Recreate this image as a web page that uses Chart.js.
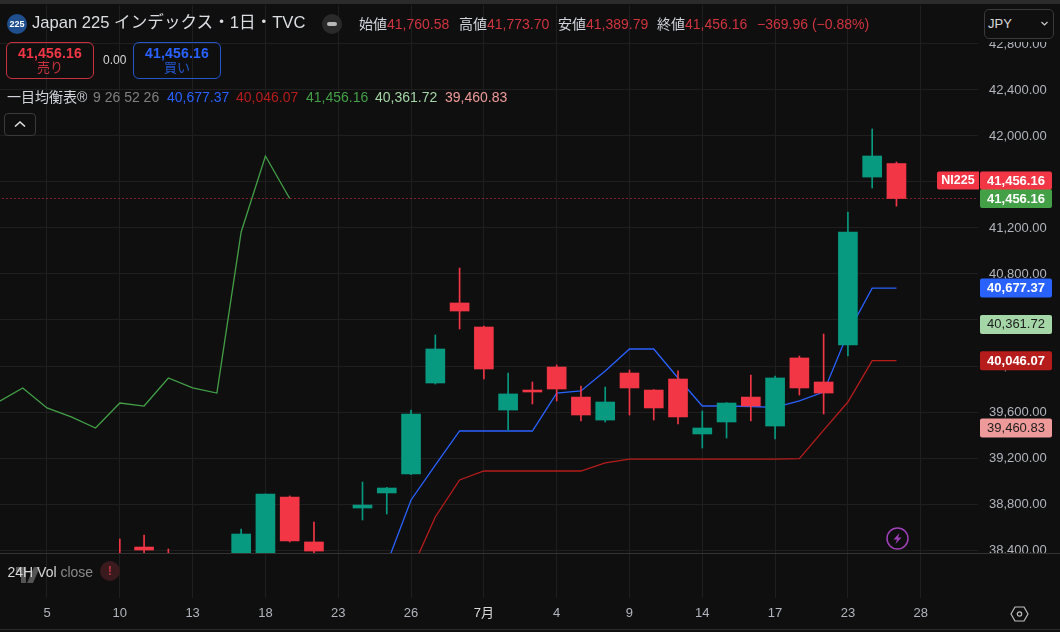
<!DOCTYPE html>
<html lang="ja">
<head>
<meta charset="utf-8">
<title>Japan 225</title>
<script src="https://cdn.jsdelivr.net/npm/chart.js@4"></script>
<style>
  html, body { margin: 0; padding: 0; background: #0f0f0f; }
  body { width: 1060px; height: 632px; position: relative; overflow: hidden;
         font-family: "Liberation Sans", "Noto Sans CJK JP", sans-serif; color: #d1d4dc; }
  canvas { position: absolute; left: 0; top: 0; }
  .abs { position: absolute; white-space: nowrap; line-height: 1; }
  .val { color: #d0343f; }
  .box { position: absolute; top: 42px; width: 86px; height: 35px; border: 1px solid; border-radius: 6px;
         text-align: center; }
  .box b { display: block; font-size: 14px; line-height: 14px; margin-top: 3px; letter-spacing: .2px; }
  .box span { display: block; font-size: 13px; line-height: 15px; }
</style>
</head>
<body>
<canvas id="chart" width="1060" height="632"></canvas>

<div class="abs" style="left:7px;top:14px;width:20px;height:20px;border-radius:50%;background:#1f4f8c;color:#fff;font-size:9px;font-weight:bold;line-height:20px;text-align:center">225</div>
<div class="abs" style="left:32px;top:15px;font-size:16.6px;color:#dcdee3">Japan 225 インデックス・1日・TVC</div>
<div class="abs" style="left:322px;top:14px;width:20px;height:20px;border-radius:50%;background:#2a2a2a"></div>
<div class="abs" style="left:327px;top:22px;width:10px;height:4px;border-radius:2px;background:#b8b8b8"></div>
<div class="abs" style="left:359px;top:17px;font-size:14px">始値<span class="val">41,760.58</span></div>
<div class="abs" style="left:459px;top:17px;font-size:14px">高値<span class="val">41,773.70</span></div>
<div class="abs" style="left:558px;top:17px;font-size:14px">安値<span class="val">41,389.79</span></div>
<div class="abs" style="left:657px;top:17px;font-size:14px">終値<span class="val">41,456.16</span></div>
<div class="abs val" style="left:757px;top:17px;font-size:14px">−369.96 (−0.88%)</div>

<div class="box" style="left:6px;border-color:#c8323f;color:#c8323f"><b style="color:#f23645">41,456.16</b><span>売り</span></div>
<div class="abs" style="left:103px;top:54px;font-size:12px;color:#d8d8d8">0.00</div>
<div class="box" style="left:133px;border-color:#2456cc;color:#2456cc"><b style="color:#2962ff">41,456.16</b><span>買い</span></div>

<div class="abs" style="left:7px;top:90px;font-size:14px;color:#d1d4dc">一目均衡表®</div>
<div class="abs" style="left:93px;top:90px;font-size:14px;color:#808080">9 26 52 26</div>
<div class="abs" style="left:167px;top:90px;font-size:14px;color:#2962ff">40,677.37</div>
<div class="abs" style="left:236px;top:90px;font-size:14px;color:#b71c1c">40,046.07</div>
<div class="abs" style="left:306px;top:90px;font-size:14px;color:#43a047">41,456.16</div>
<div class="abs" style="left:375px;top:90px;font-size:14px;color:#a5d6a7">40,361.72</div>
<div class="abs" style="left:445px;top:90px;font-size:14px;color:#ef9a9a">39,460.83</div>

<div class="abs" style="left:4px;top:113px;width:30px;height:21px;border:1px solid #3a3a3a;border-radius:4px"></div>
<svg class="abs" style="left:4px;top:113px" width="32" height="23"><path d="M11 13.5l5-4.5 5 4.5" fill="none" stroke="#e0e0e0" stroke-width="1.6"/></svg>

<div class="abs" style="left:984px;top:9px;width:68px;height:28px;border:1px solid #3a3a3a;border-radius:5px;background:#0f0f0f"></div>
<div class="abs" style="left:988px;top:17px;font-size:13px;color:#d8d8d8">JPY</div>
<svg class="abs" style="left:1040px;top:20px" width="10" height="8"><path d="M1.5 2l3 3 3-3" fill="none" stroke="#c8c8c8" stroke-width="1.2"/></svg>

<svg class="abs" style="left:0;top:560px" width="60" height="30"><path d="M16 7h10v16h-5V12h-5z M34 7h6l-7 16h-6z" fill="#555555"/></svg>
<div class="abs" style="left:7.5px;top:565px;font-size:14px;color:#d8d8d8">24H Vol <span style="color:#8a8a8a">close</span></div>
<div class="abs" style="left:100px;top:561px;width:20px;height:20px;border-radius:50%;background:#3a1a1d;color:#b0333f;font-size:13px;font-weight:bold;line-height:20px;text-align:center">!</div>

<svg class="abs" style="left:886px;top:527px" width="23" height="23"><circle cx="11.5" cy="11.5" r="10.5" fill="none" stroke="#a040b8" stroke-width="1.5"/><path d="M13.5 6l-6 6.5h3.5l-1.5 4.5 6-6.5h-3.5z" fill="#a040b8"/></svg>
<svg class="abs" style="left:1010px;top:605px" width="19" height="18"><path d="M5 2h9l4 7-4 7H5L1 9z" fill="none" stroke="#c0c0c0" stroke-width="1.2"/><circle cx="9.5" cy="9" r="2.2" fill="none" stroke="#c0c0c0" stroke-width="1.2"/></svg>

<script>
// 営業日 (index がそのまま x 軸の値)
const dates = ['6/3', '6/4', '6/5', '6/6', '6/9', '6/10', '6/11', '6/12', '6/13', '6/16', '6/17', '6/18', '6/19', '6/20',
  '6/23', '6/24', '6/25', '6/26', '6/27', '6/30', '7/1', '7/2', '7/3', '7/4', '7/7', '7/8', '7/9', '7/10', '7/11',
  '7/14', '7/15', '7/16', '7/17', '7/18', '7/22', '7/23', '7/24', '7/25', '7/28'];

const _ = null;
const opens = [_, _, _, _, _, 38330, 38426, 38350, _, _, 38300, 38350, 38861, 38470, _, 38765, 38896, 39061, 39852, 40548,
  40339, 39617, 39791, 39991, 39730, 39530, 39939, 39791, 39887, 39409, 39513, 39730, 39478, 40070, 39861, 40183, 41643, 41760.58];
const highs = [_, _, _, _, _, 38496, 38530, 38409, _, _, 38583, 38887, 38870, 38643, _, 38991, 38945, 39617, 40270, 40852,
  40348, 39939, 39861, 40009, 39826, 39817, 39965, 39795, 39957, 39609, 39682, 39922, 39913, 40087, 40278, 41339, 42061, 41773.70];
const lows = [_, _, _, _, _, 38200, 38340, 38200, _, _, 38250, 38300, 38470, 38370, _, 38661, 38713, 39055, 39843, 40322,
  39887, 39443, 39670, 39696, 39522, 39513, 39574, 39530, 39496, 39287, 39374, 39522, 39365, 39748, 39583, 40087, 41548, 41389.79];
const closes = [_, _, _, _, _, 38250, 38400, 38300, _, _, 38539, 38887, 38478, 38391, _, 38791, 38939, 39583, 40148, 40478,
  39974, 39757, 39774, 39800, 39574, 39687, 39809, 39635, 39557, 39461, 39678, 39652, 39896, 39809, 39765, 41165, 41826, 41456.16];

// 一目均衡表
const tenkan = [_, _, _, _, _, _, _, _, _, _, _, _, _, _, _, _, 38278, 38835, 39139, 39435, 39435, 39435, 39435, 39765,
  39783, 39957, 40148, 40148, 39896, 39652, 39652, 39648, 39640, 39696, 39774, 40287, 40677.37, 40677.37];
const kijun = [_, _, _, _, _, _, _, _, _, _, _, _, _, _, _, _, _, 38217, 38687, 39009, 39087, 39087, 39087, 39087, 39087,
  39157, 39191, 39191, 39191, 39191, 39191, 39191, 39191, 39195, 39443, 39687, 40046.07, 40046.07];
const chikou = [39687, 39809, 39635, 39557, 39461, 39678, 39652, 39896, 39809, 39765, 41165, 41826, 41456.16];

const lastPrice = 41456.16;
const priceTicks = [38400, 38800, 39200, 39600, 40000, 40400, 40800, 41200, 41600, 42000, 42400, 42800];
const timeTickDates = ['6/5', '6/10', '6/13', '6/18', '6/23', '6/26', '7/1', '7/4', '7/9', '7/14', '7/17', '7/23', '7/28'];
const timeTickLabels = ['5', '10', '13', '18', '23', '26', '7月', '4', '9', '14', '17', '23', '28'];

const tagValues = [39460.83, 40046.07, 40361.72, 40677.37, 41456.16];
const tagNames = ['39,460.83', '40,046.07', '40,361.72', '40,677.37', '41,456.16'];

const UP = '#089981';
const DOWN = '#f23645';
const BG = '#0f0f0f';
const GRID = '#1f1f1f';
const FONT = '"Liberation Sans", "Noto Sans CJK JP", sans-serif';
const tagStyles = [
  { bg: '#ef9a9a', fg: '#1c1c1c', weight: 'normal' },
  { bg: '#b71c1c', fg: '#ffffff', weight: 'bold' },
  { bg: '#a5d6a7', fg: '#1c1c1c', weight: 'normal' },
  { bg: '#2962ff', fg: '#ffffff', weight: 'bold' },
  { bg: '#43a047', fg: '#ffffff', weight: 'bold' },
];

const candleIdx = dates.map((d, i) => i).filter(i => opens[i] !== null && opens[i] !== undefined);
const barColor = candleIdx.map(i => (closes[i] >= opens[i] ? UP : DOWN));
const toLine = arr => arr.map((v, i) => ({ x: i, y: v }));

function roundTag(ctx, x, y, w, h, text, bg, fg, r) {
  ctx.fillStyle = bg;
  ctx.beginPath();
  ctx.roundRect(x, y, w, h, r);
  ctx.fill();
  ctx.fillStyle = fg;
  ctx.fillText(text, x + w / 2, y + h / 2 + 0.5);
}

const overlay = {
  id: 'overlay',
  afterDraw(chart) {
    const ctx = chart.ctx;
    const yScale = chart.scales.y;
    const area = chart.chartArea;
    ctx.save();

    // 軸ラベルのはみ出しを隠す
    ctx.fillStyle = BG;
    ctx.fillRect(area.right, 0, 1060 - area.right, 42);
    ctx.fillRect(area.right, area.bottom, 1060 - area.right, 45);

    // ペインの区切り
    ctx.fillStyle = '#2b2b2b';
    ctx.fillRect(0, 0, 1060, 4);
    ctx.fillRect(0, 629, 1060, 1);
    ctx.fillStyle = '#333333';
    ctx.fillRect(0, area.bottom, 1060, 1);

    // 価格タグ
    ctx.textAlign = 'center';
    ctx.textBaseline = 'middle';
    tagValues.forEach((v, i) => {
      const py = yScale.getPixelForValue(v);
      ctx.font = `${tagStyles[i].weight} 13px ${FONT}`;
      roundTag(ctx, 980, py - 9.5, 72, 19, tagNames[i], tagStyles[i].bg, tagStyles[i].fg, 2);
    });
    const py = yScale.getPixelForValue(lastPrice);
    ctx.font = `bold 13px ${FONT}`;
    roundTag(ctx, 980, py - 27, 72, 18, tagNames[4], DOWN, '#ffffff', 2);
    ctx.font = `bold 12.5px ${FONT}`;
    roundTag(ctx, 937, py - 27, 42, 18, 'NI225', DOWN, '#ffffff', [2, 0, 0, 2]);
    ctx.restore();
  },
};

new Chart(document.getElementById('chart').getContext('2d'), {
  type: 'bar',
  data: {
    datasets: [
      {
        type: 'bar',
        data: candleIdx.map(i => ({ x: i, y: [opens[i], closes[i]] })),
        backgroundColor: barColor,
        barThickness: 19,
        grouped: false,
        order: 1,
      },
      {
        type: 'bar',
        data: candleIdx.map(i => ({ x: i, y: [lows[i], highs[i]] })),
        backgroundColor: barColor,
        barThickness: 1,
        grouped: false,
        order: 2,
      },
      { type: 'line', data: toLine(tenkan), borderColor: '#2962ff', borderWidth: 1.3, pointRadius: 0, tension: 0, order: 4 },
      { type: 'line', data: toLine(kijun), borderColor: '#b71c1c', borderWidth: 1.3, pointRadius: 0, tension: 0, order: 4 },
      { type: 'line', data: toLine(chikou), borderColor: '#43a047', borderWidth: 1.3, pointRadius: 0, tension: 0, order: 4 },
      {
        type: 'line',
        data: [{ x: 0, y: lastPrice }, { x: dates.length + 2, y: lastPrice }],
        borderColor: DOWN,
        borderWidth: 1,
        borderDash: [1, 3],
        pointRadius: 0,
        order: 3,
      },
    ],
  },
  options: {
    responsive: false,
    animation: false,
    devicePixelRatio: 1,
    layout: { padding: { top: 5, right: 0, bottom: 0, left: 0 } },
    plugins: { legend: { display: false }, tooltip: { enabled: false } },
    scales: {
      x: {
        type: 'linear',
        position: 'bottom',
        offset: false,
        min: 0.0635,
        max: 40.36,
        afterBuildTicks: axis => { axis.ticks = timeTickDates.map(d => ({ value: dates.indexOf(d) })); },
        afterFit: axis => { axis.height = 79; axis.paddingLeft = 0; axis.paddingRight = 0; },
        grid: { offset: false, color: GRID, tickColor: GRID, tickLength: 45, drawTicks: true },
        border: { display: false },
        ticks: {
          autoSkip: false,
          maxRotation: 0,
          padding: 8,
          color: ctx => (ctx.index === 6 ? '#d8d8d8' : '#b2b5be'),
          font: { family: FONT, size: 13 },
          callback: (value, index) => timeTickLabels[index],
        },
      },
      y: {
        type: 'linear',
        position: 'right',
        min: 38374,
        max: 43139,
        afterBuildTicks: axis => { axis.ticks = priceTicks.map(v => ({ value: v })); },
        afterFit: axis => { axis.width = 82; axis.paddingTop = 0; axis.paddingBottom = 0; },
        grid: { color: GRID, drawTicks: false },
        border: { display: false },
        ticks: {
          padding: 11,
          color: '#b2b5be',
          font: { family: FONT, size: 13 },
          callback: v => v.toLocaleString('en-US', { minimumFractionDigits: 2 }),
        },
      },
    },
  },
  plugins: [overlay],
});
</script>
</body>
</html>
